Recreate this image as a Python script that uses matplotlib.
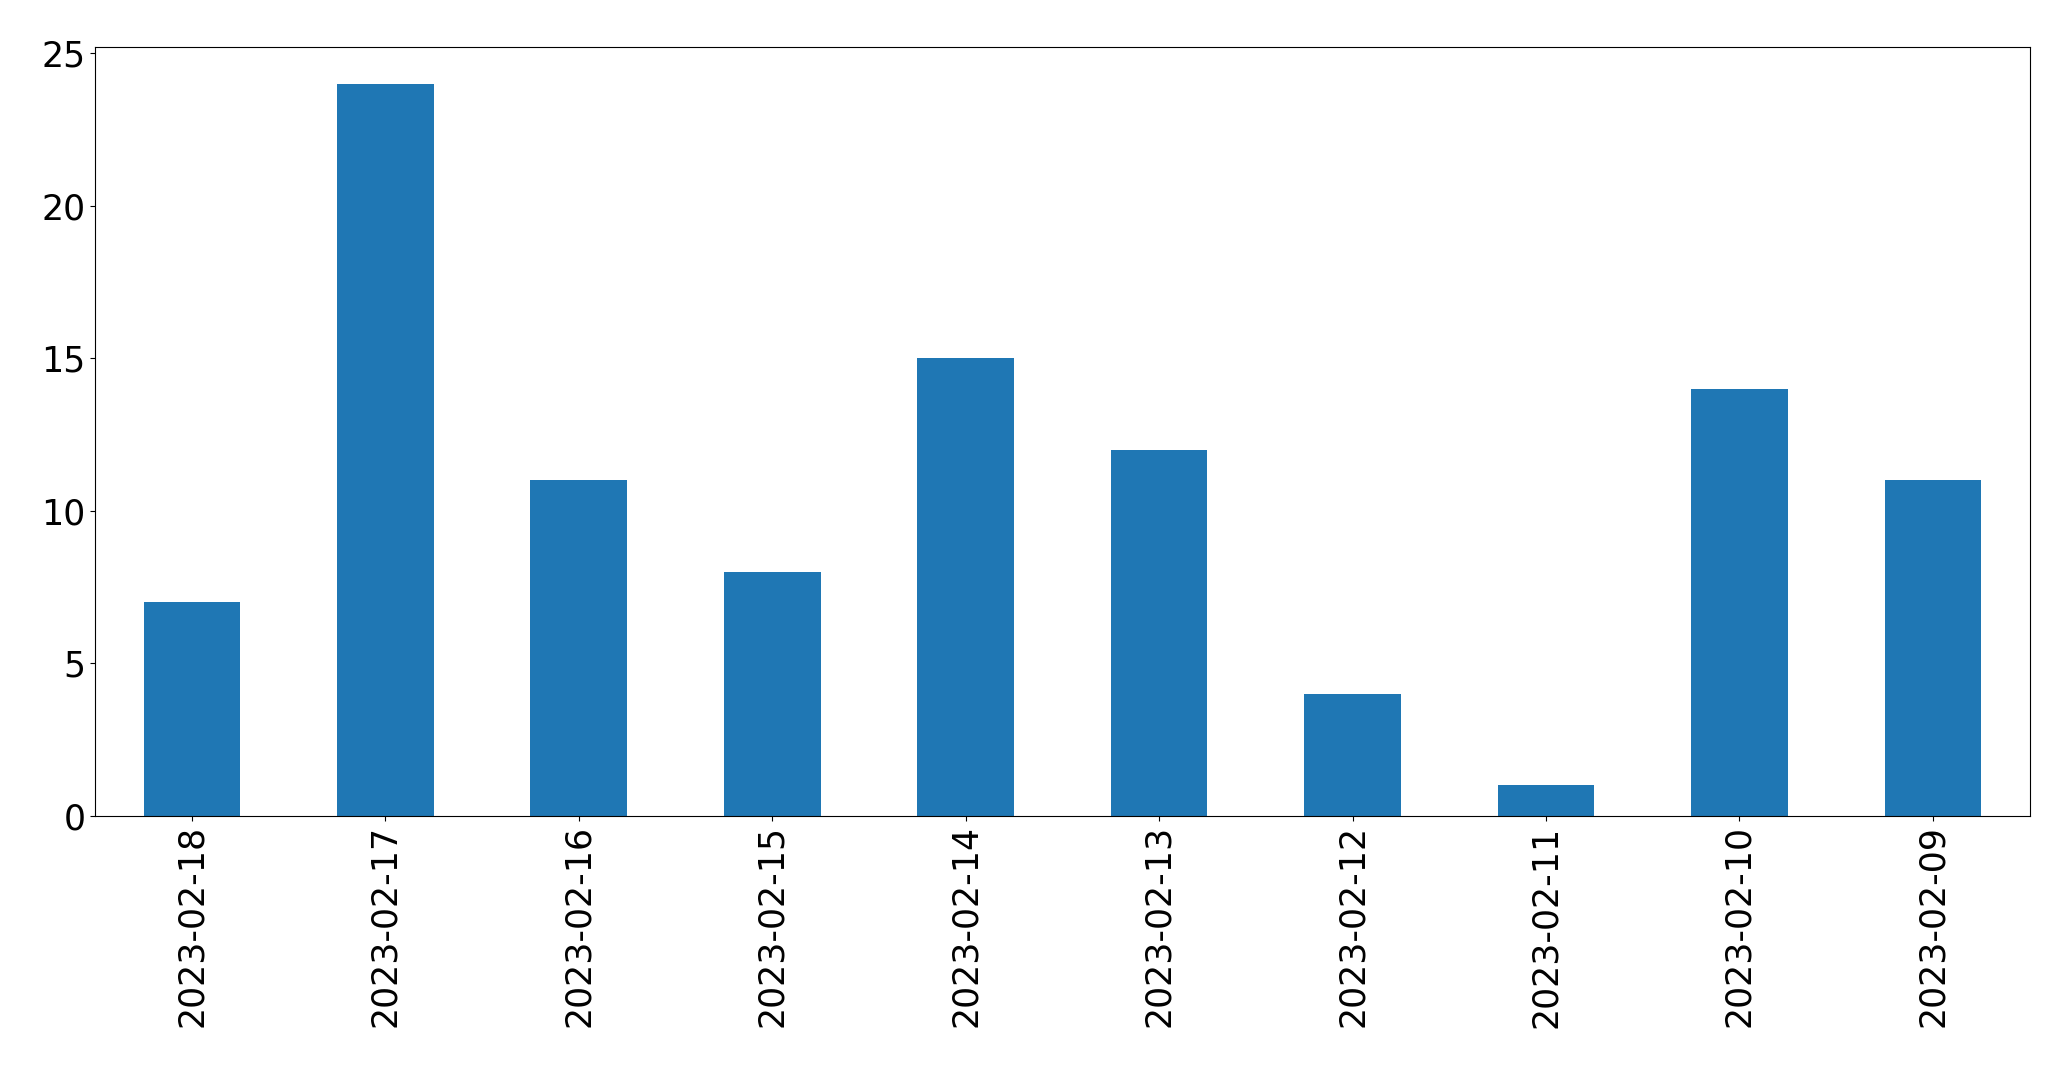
import matplotlib
matplotlib.use('Agg')
import matplotlib.pyplot as plt
import pandas as pd

dates = ['2023-02-18', '2023-02-17', '2023-02-16', '2023-02-15', '2023-02-14',
         '2023-02-13', '2023-02-12', '2023-02-11', '2023-02-10', '2023-02-09']
counts = [7, 24, 11, 8, 15, 12, 4, 1, 14, 11]

s = pd.Series(counts, index=dates)

fig, ax = plt.subplots(figsize=(20.71, 10.69), dpi=100)
s.plot(kind='bar', ax=ax, color='#1f77b4')
ax.tick_params(axis='both', labelsize=25)
fig.subplots_adjust(left=0.046, right=0.98, top=0.956, bottom=0.237)
fig.savefig('out.png', dpi=100)
